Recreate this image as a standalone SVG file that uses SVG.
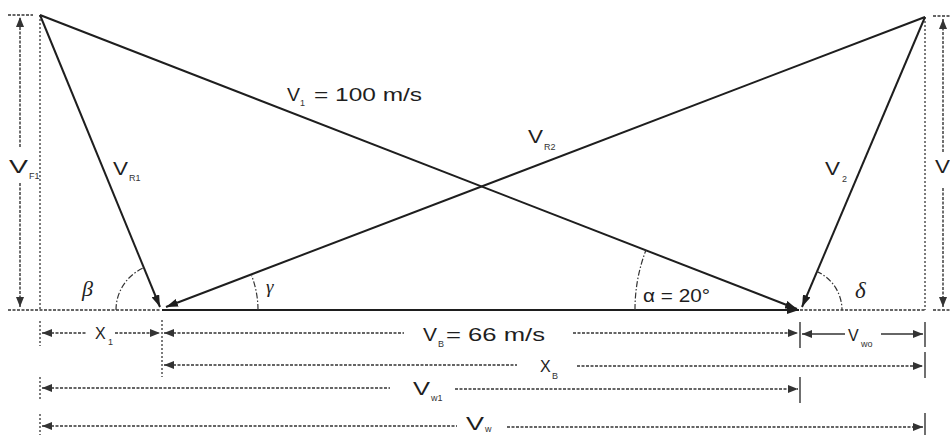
<svg xmlns="http://www.w3.org/2000/svg" width="950" height="435" viewBox="0 0 950 435">
<style>
.main{stroke:#1e1e1e;stroke-width:2;fill:none}
.dim{stroke:#333;stroke-width:1.4;stroke-dasharray:3 1.5;fill:none}
.sol{stroke:#333;stroke-width:1.4;fill:none}
.dot{stroke:#444;stroke-width:1.4;stroke-dasharray:2 2;fill:none}
.arc{stroke:#333;stroke-width:1.2;stroke-dasharray:6 2 1.5 2;fill:none}
.t{font-family:"Liberation Sans",Arial,sans-serif;font-size:18px;fill:#1e1e1e}
.m{font-family:"Liberation Sans",Arial,sans-serif;font-size:16px;fill:#1e1e1e}
.s{font-family:"Liberation Sans",Arial,sans-serif;font-size:9px;fill:#333}
.g{font-family:"Liberation Serif",serif;font-style:italic;fill:#1e1e1e}
</style>
<defs>
<marker id="ah" viewBox="0 0 12 8" refX="12" refY="4" markerWidth="12" markerHeight="8" orient="auto-start-reverse" markerUnits="userSpaceOnUse"><path d="M0,0 L12,4 L0,8 z" fill="#1e1e1e"/></marker>
<marker id="dh" viewBox="0 0 10 8" refX="10" refY="4" markerWidth="10" markerHeight="8" orient="auto-start-reverse" markerUnits="userSpaceOnUse"><path d="M0,0 L10,4 L0,8 z" fill="#333"/></marker>
</defs>

<g id="construction">
<line class="dot" x1="40" y1="15" x2="40" y2="310"/>
<line class="dot" x1="925" y1="17" x2="925" y2="310"/>
<line class="dim" x1="8" y1="15" x2="33" y2="15"/>
<line class="dim" x1="933" y1="16" x2="950" y2="16"/>
<line class="dim" x1="8" y1="310" x2="160" y2="310"/>
<line class="dim" x1="800" y1="310" x2="925" y2="310"/>
<line class="dim" x1="933" y1="310" x2="950" y2="310"/>
</g>

<g id="connectors">
<line class="main" x1="40" y1="15" x2="160" y2="307" marker-end="url(#ah)"/>
<line class="main" x1="925" y1="17" x2="166" y2="307" marker-end="url(#ah)"/>
<line class="main" x1="40" y1="15" x2="797" y2="309" marker-end="url(#ah)"/>
<line class="main" x1="925" y1="17" x2="802" y2="307" marker-end="url(#ah)"/>
<line class="main" x1="162" y1="310" x2="799" y2="310" marker-end="url(#ah)"/>
</g>

<g id="angles">
<path class="arc" d="M116,310 A46,46 0 0 1 144.4,267.5"/>
<path class="arc" d="M258,310 A96,96 0 0 0 251.6,275.6"/>
<path class="arc" d="M635,310 A165,165 0 0 1 646,250"/>
<path class="arc" d="M816.5,271.4 A42,42 0 0 1 842,310"/>
<text class="g" x="82" y="296" font-size="22">β</text>
<text class="g" x="266" y="293" font-size="19">γ</text>
<text class="g" x="855" y="298" font-size="23">δ</text>
<text class="t" x="643" y="302" textLength="67" lengthAdjust="spacingAndGlyphs">α = 20°</text>
</g>

<g id="labels">
<text class="t" x="9" y="173" textLength="19" lengthAdjust="spacingAndGlyphs">V</text><text class="s" x="29" y="179">F1</text>
<text class="t" x="113" y="175" textLength="15" lengthAdjust="spacingAndGlyphs">V</text><text class="s" x="129" y="181">R1</text>
<text class="t" x="287" y="101" textLength="13" lengthAdjust="spacingAndGlyphs">V</text><text class="s" x="300" y="106">1</text>
<text class="t" x="314" y="101" textLength="108" lengthAdjust="spacingAndGlyphs">= 100 m/s</text>
<text class="t" x="528" y="143" textLength="15" lengthAdjust="spacingAndGlyphs">V</text><text class="s" x="544" y="150">R2</text>
<text class="t" x="825" y="175" textLength="15" lengthAdjust="spacingAndGlyphs">V</text><text class="s" x="842" y="182">2</text>
<text class="t" x="935" y="173" textLength="15" lengthAdjust="spacingAndGlyphs">V</text>
</g>

<g id="dimensions">
<line class="dim" x1="20" y1="147" x2="20" y2="17" marker-end="url(#dh)"/>
<line class="dim" x1="20" y1="183" x2="20" y2="307" marker-end="url(#dh)"/>
<line class="dim" x1="943" y1="152" x2="943" y2="19" marker-end="url(#dh)"/>
<line class="dim" x1="943" y1="188" x2="943" y2="307" marker-end="url(#dh)"/>
<line class="dot" x1="40" y1="321" x2="40" y2="346"/>
<line class="dot" x1="40" y1="377" x2="40" y2="401"/>
<line class="dot" x1="40" y1="414" x2="40" y2="435"/>
<line class="dot" x1="162" y1="320" x2="162" y2="377"/>
<line class="sol" x1="800" y1="322" x2="800" y2="348"/>
<line class="sol" x1="800" y1="377" x2="800" y2="403"/>
<line class="sol" x1="925" y1="322" x2="925" y2="347"/>
<line class="sol" x1="925" y1="352" x2="925" y2="378"/>
<line class="sol" x1="925" y1="413" x2="925" y2="435"/>
<line class="dim" x1="42" y1="333" x2="86" y2="333" marker-start="url(#dh)"/>
<line class="dim" x1="115" y1="333" x2="160" y2="333" marker-end="url(#dh)"/>
<text class="m" x="95" y="339">X</text><text class="s" x="108" y="345">1</text>
<line class="dim" x1="164" y1="333" x2="404" y2="333" marker-start="url(#dh)"/>
<line class="dim" x1="573" y1="333" x2="798" y2="333" marker-end="url(#dh)"/>
<text class="t" x="423" y="341" textLength="14" lengthAdjust="spacingAndGlyphs">V</text><text class="s" x="438" y="347">B</text>
<text class="t" x="446" y="341" textLength="99" lengthAdjust="spacingAndGlyphs">= 66 m/s</text>
<line class="sol" x1="802" y1="334" x2="845" y2="334" marker-start="url(#dh)"/>
<line class="sol" x1="881" y1="334" x2="923" y2="334" marker-end="url(#dh)"/>
<text class="m" x="848" y="341">V</text><text class="s" x="861" y="347">wo</text>
<line class="dim" x1="164" y1="365" x2="517" y2="365" marker-start="url(#dh)"/>
<line class="dim" x1="577" y1="366" x2="923" y2="366" marker-end="url(#dh)"/>
<text class="m" x="540" y="372">X</text><text class="s" x="552" y="379">B</text>
<line class="dim" x1="42" y1="388" x2="390" y2="388" marker-start="url(#dh)"/>
<line class="dim" x1="455" y1="389" x2="798" y2="389" marker-end="url(#dh)"/>
<text class="t" x="413" y="395" textLength="17" lengthAdjust="spacingAndGlyphs">V</text><text class="s" x="431" y="401">w1</text>
<line class="dim" x1="42" y1="426" x2="457" y2="426" marker-start="url(#dh)"/>
<line class="dim" x1="507" y1="427" x2="923" y2="427" marker-end="url(#dh)"/>
<text class="t" x="466" y="430" textLength="18" lengthAdjust="spacingAndGlyphs">V</text><text class="s" x="485" y="432">w</text>
</g>
</svg>
